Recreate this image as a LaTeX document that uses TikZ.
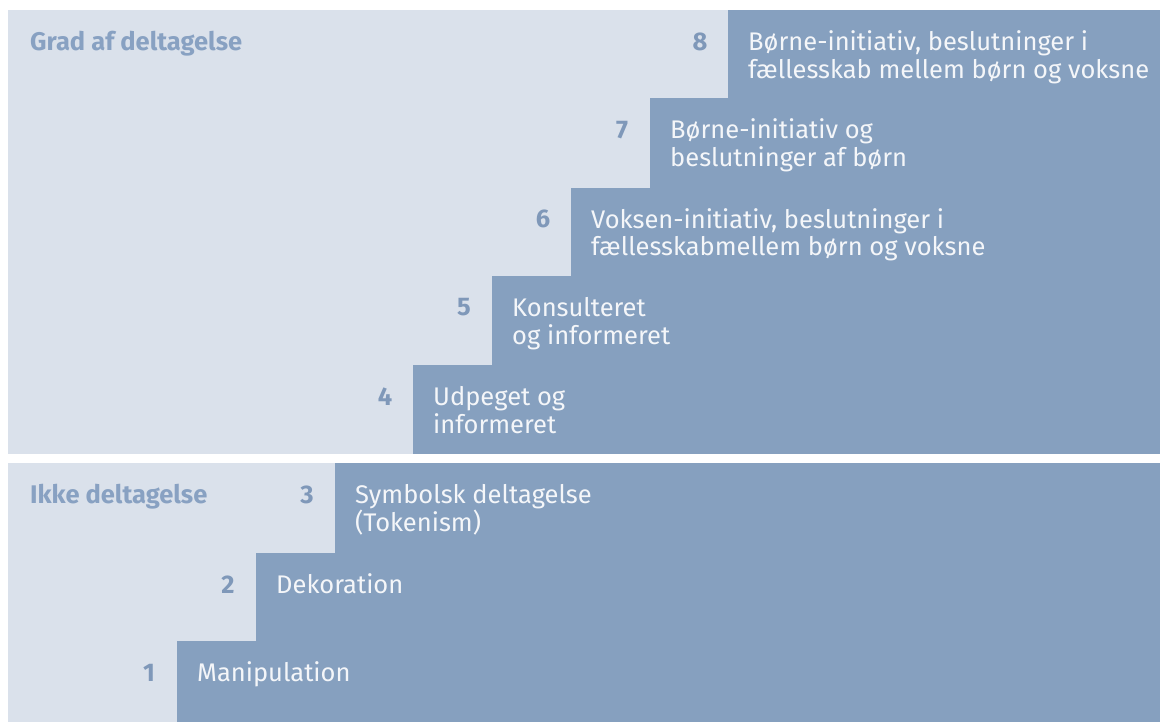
\documentclass[tikz,border=0pt]{standalone}
\usepackage{fontspec}
\setmainfont{Fira Sans}
\definecolor{paneL}{HTML}{DAE1EB}
\definecolor{stepD}{HTML}{86A0BF}
\definecolor{numC}{HTML}{7F98B9}
\definecolor{headC}{HTML}{88A1C2}
\definecolor{txtW}{HTML}{F4F6F9}
\tikzset{
  panel/.style={fill=paneL,draw=none},
  stair/.style={fill=stepD,draw=none},
  steptext/.style={anchor=base west,align=left,text=txtW,inner sep=0pt,font=\fontsize{25.5}{28}\selectfont},
  stepnum/.style={anchor=base,text=numC,inner sep=0pt,font=\fontsize{25.5}{28}\selectfont\bfseries},
  header/.style={anchor=base west,text=headC,inner sep=0pt,font=\fontsize{25.5}{28}\selectfont\bfseries}
}
\begin{document}
\begin{tikzpicture}[x=1pt,y=-1pt]
\useasboundingbox (0,0) rectangle (1160,722);
\fill[white] (0,0) rectangle (1160,722);
% panels
\fill[panel] (8,10) rectangle (1160,454);
\fill[panel] (8,463) rectangle (1160,722);
% steps (top panel)
\fill[stair] (728,10) rectangle (1160,454);
\fill[stair] (650,98) rectangle (1160,454);
\fill[stair] (571,188) rectangle (1160,454);
\fill[stair] (492,276) rectangle (1160,454);
\fill[stair] (413,365) rectangle (1160,454);
% steps (bottom panel)
\fill[stair] (335,463) rectangle (1160,722);
\fill[stair] (256,553) rectangle (1160,722);
\fill[stair] (177,641) rectangle (1160,722);
% headers
\node[header] (h1) at (30,51) {Grad af deltagelse};
\node[header] (h2) at (30,503) {Ikke deltagelse};
% numbers
\node[stepnum] (n8) at (700,51) {8};
\node[stepnum] (n7) at (622,139) {7};
\node[stepnum] (n6) at (543,228) {6};
\node[stepnum] (n5) at (464,316) {5};
\node[stepnum] (n4) at (385,405) {4};
\node[stepnum] (n3) at (307,503) {3};
\node[stepnum] (n2) at (228,593) {2};
\node[stepnum] (n1) at (149,681) {1};
% texts (two-line nodes are placed at the baseline of their last line)
\node[steptext] (t8) at (748,79) {Børne-initiativ, beslutninger i\\fællesskab mellem børn og voksne};
\node[steptext] (t7) at (670,167) {Børne-initiativ og\\beslutninger af børn};
\node[steptext] (t6) at (591,256) {Voksen-initiativ, beslutninger i\\fællesskabmellem børn og voksne};
\node[steptext] (t5) at (512,344) {Konsulteret\\og informeret};
\node[steptext] (t4) at (433,433) {Udpeget og\\informeret};
\node[steptext] (t3) at (355,531) {Symbolsk deltagelse\\(Tokenism)};
\node[steptext] (t2) at (276,593) {Dekoration};
\node[steptext] (t1) at (197,681) {Manipulation};
\end{tikzpicture}
\end{document}
